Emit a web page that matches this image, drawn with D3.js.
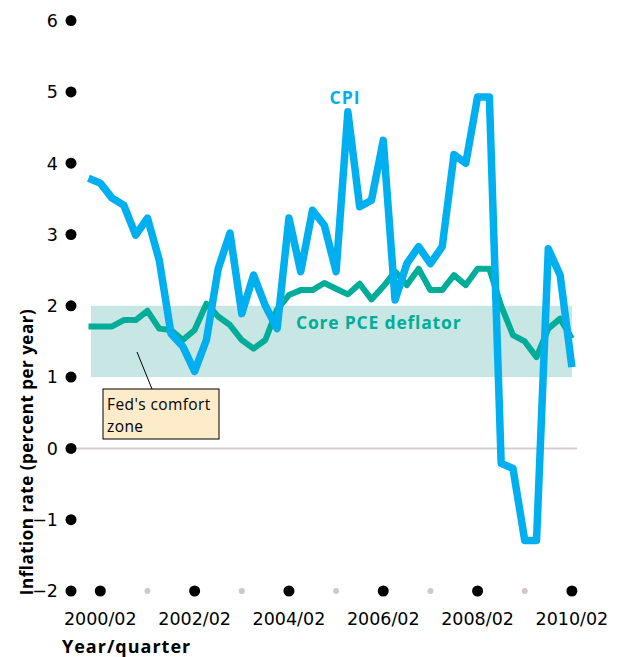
<!DOCTYPE html>
<head>
    <title>Inflation</title>
    <script src="https://cdn.jsdelivr.net/npm/d3@7"></script>
    <style>
        body { margin: 0; background: #fff; }
        text { font-family: "Open Sans", sans-serif; }
        .tick { font-family: "DejaVu Sans", sans-serif; font-size: 17.5px; }
    </style>
</head>
<body>
<div id="container"></div>

<script>

// Quarters from 2000 Q1 to 2010 Q2
const quarters = d3.range(42).map(i => {
    const y = 2000 + Math.floor(i / 4);
    const q = (i % 4) + 1;
    return y + "/0" + q;
});

// CPI inflation (percent per year)
const cpi = [3.79, 3.72, 3.51, 3.41, 2.99, 3.23, 2.64, 1.61, 1.43, 1.08,
             1.52, 2.52, 3.02, 1.89, 2.43, 2.0, 1.68, 3.23, 2.48, 3.34,
             3.13, 2.48, 4.72, 3.39, 3.48, 4.32, 2.08, 2.59, 2.83, 2.59,
             2.83, 4.12, 4.0, 4.93, 4.93, -0.21, -0.28, -1.29, -1.29, 2.8,
             2.43, 1.14];

// Core PCE deflator
const pce = [1.71, 1.71, 1.71, 1.8, 1.8, 1.93, 1.68, 1.66, 1.52, 1.66,
             2.03, 1.85, 1.73, 1.52, 1.4, 1.52, 1.95, 2.15, 2.22, 2.22,
             2.32, 2.24, 2.16, 2.31, 2.09, 2.27, 2.48, 2.29, 2.52, 2.22,
             2.22, 2.43, 2.29, 2.52, 2.52, 2.0, 1.59, 1.5, 1.28, 1.68,
             1.82, 1.54];

const yTicks = [-2, -1, 0, 1, 2, 3, 4, 5, 6];
const xTickLabels = ["2000/02", "2002/02", "2004/02", "2006/02", "2008/02", "2010/02"];
const xMinorTicks = ["2001/02", "2003/02", "2005/02", "2007/02", "2009/02"];
const comfortZone = [1, 2];

const width = 622;
const height = 657;

const x = d3.scalePoint()
    .domain(quarters)
    .range([88.5, 571.9]);

const y = d3.scaleLinear()
    .domain([-2, 6])
    .range([591, 20.6]);

const svg = d3.create("svg")
    .attr("width", width)
    .attr("height", height);

// Zone de confort
svg.append("rect")
    .attr("x", 91)
    .attr("y", y(comfortZone[1]))
    .attr("width", 572 - 91)
    .attr("height", y(comfortZone[0]) - y(comfortZone[1]))
    .attr("fill", "#c8e6e3");

// Ligne du zéro
svg.append("line")
    .attr("x1", 71).attr("x2", 577)
    .attr("y1", y(0)).attr("y2", y(0))
    .attr("stroke", "#d3cbd3")
    .attr("stroke-width", 2);

// Axe Y : points + labels
const yAxis = svg.append("g");
yAxis.selectAll("circle")
    .data(yTicks)
    .enter().append("circle")
    .attr("cx", 71)
    .attr("cy", d => y(d))
    .attr("r", 5.5)
    .attr("fill", "#000");
yAxis.selectAll("text")
    .data(yTicks)
    .enter().append("text")
    .attr("class", "tick")
    .attr("x", 58)
    .attr("y", d => y(d))
    .attr("dy", "0.36em")
    .attr("text-anchor", "end")
    .text(d => d < 0 ? "\u2212" + Math.abs(d) : d);

// Axe X : points noirs et gris
const xAxis = svg.append("g");
xAxis.selectAll("circle.major")
    .data(xTickLabels)
    .enter().append("circle")
    .attr("class", "major")
    .attr("cx", d => x(d))
    .attr("cy", y(-2))
    .attr("r", 5.5)
    .attr("fill", "#000");
xAxis.selectAll("circle.minor")
    .data(xMinorTicks)
    .enter().append("circle")
    .attr("class", "minor")
    .attr("cx", d => x(d))
    .attr("cy", y(-2))
    .attr("r", 3)
    .attr("fill", "#cfc8cf");
xAxis.selectAll("text")
    .data(xTickLabels)
    .enter().append("text")
    .attr("class", "tick")
    .attr("x", d => x(d))
    .attr("y", 625)
    .attr("text-anchor", "middle")
    .text(d => d);

// Titres des axes
svg.append("text")
    .attr("x", 62)
    .attr("y", 653)
    .attr("font-size", 18)
    .attr("font-weight", "bold")
    .attr("letter-spacing", 1)
    .text("Year/quarter");

svg.append("text")
    .attr("transform", "translate(33,452) rotate(-90)")
    .attr("text-anchor", "middle")
    .attr("font-size", 17)
    .attr("font-weight", "bold")
    .attr("letter-spacing", 0.5)
    .text("Inflation rate (percent per year)");

// Courbes
const line = d3.line()
    .x((d, i) => x(quarters[i]))
    .y(d => y(d));

svg.append("path")
    .datum(pce)
    .attr("d", line)
    .attr("fill", "none")
    .attr("stroke", "#00ad98")
    .attr("stroke-width", 6)
    .attr("stroke-linejoin", "round");

svg.append("path")
    .datum(cpi)
    .attr("d", line)
    .attr("fill", "none")
    .attr("stroke", "#00afef")
    .attr("stroke-width", 7.5)
    .attr("stroke-linejoin", "round");

// Etiquettes des séries
svg.append("text")
    .attr("x", 345)
    .attr("y", 104)
    .attr("text-anchor", "middle")
    .attr("font-size", 17.5)
    .attr("font-weight", "bold")
    .attr("letter-spacing", 1)
    .attr("fill", "#00afef")
    .text("CPI");

svg.append("text")
    .attr("x", 296)
    .attr("y", 329)
    .attr("font-size", 17.5)
    .attr("font-weight", "bold")
    .attr("letter-spacing", 0.8)
    .attr("fill", "#00ad98")
    .text("Core PCE deflator");

// Boîte "Fed's comfort zone"
svg.append("line")
    .attr("x1", 137).attr("y1", 352)
    .attr("x2", 152).attr("y2", 389)
    .attr("stroke", "#000")
    .attr("stroke-width", 1);

svg.append("rect")
    .attr("x", 103)
    .attr("y", 389)
    .attr("width", 116)
    .attr("height", 50)
    .attr("fill", "#fdebc9")
    .attr("stroke", "#000")
    .attr("stroke-width", 1);

const note = svg.append("text")
    .attr("font-size", 15.5)
    .attr("letter-spacing", 0.4);
note.append("tspan").attr("x", 107).attr("y", 410).text("Fed's comfort");
note.append("tspan").attr("x", 107).attr("y", 432).text("zone");

container.append(svg.node());

</script>
</body>
